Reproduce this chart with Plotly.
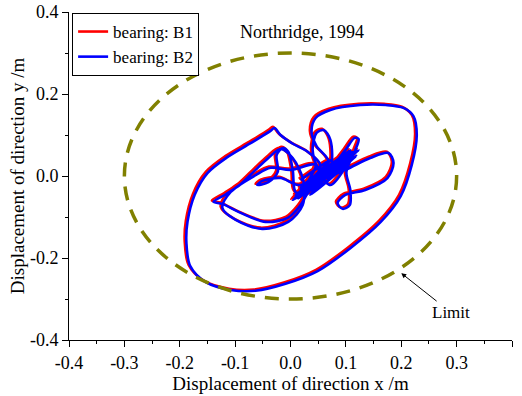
import plotly.graph_objects as go

# ---- data (m) ----
b2_x = [0.018,0.072,0.027,0.099,0.018,0.108,0.036,0.117,0.009,0.090,0.045,0.112,0.027,0.099,0.014,0.123,0.022,0.105,0.004,0.090,0.054,0.119,0.036,0.072,
        0.072,0.060,0.047,0.040,0.051,0.072,0.112,0.018,0.099,0.144,0.177,0.186,0.175,0.135,0.099,0.085,0.094,0.107,0.108,0.101,0.117,0.123,0.116,0.099,0.063,0.027,0.108,0.011,
        0.004,-0.004,-0.014,-0.025,-0.023,-0.040,-0.060,-0.051,-0.018,0.018,0.099,0.033,
        0.018,-0.005,-0.045,-0.090,-0.123,-0.139,-0.116,-0.090,-0.063,-0.040,-0.018,0.004,0.023,0.022,-0.004,-0.051,-0.099,-0.123,-0.108,-0.063,-0.036,0.000,0.045,0.018,0.112,0.036,
        0.054,0.031,0.005,-0.018,-0.029,-0.036,-0.072,-0.114,-0.150,-0.173,-0.186,-0.188,-0.181,-0.153,-0.108,-0.063,-0.009,0.049,0.108,0.163,0.199,0.219,0.228,0.222,0.204,0.172,0.126,0.072,0.045,0.038,0.047,0.069,
        0.023,0.108,0.014,0.099,0.036,0.081,0.051]
b2_y = [-0.010,0.039,-0.022,0.051,-0.034,0.063,-0.010,0.059,-0.046,0.027,-0.005,0.044,-0.034,0.039,-0.054,0.063,-0.039,0.034,-0.059,0.044,-0.022,0.049,-0.046,0.015,
        0.088,0.112,0.105,0.063,0.015,-0.022,0.059,-0.029,0.015,0.044,0.056,0.032,-0.005,-0.034,-0.046,-0.066,-0.080,-0.071,-0.034,0.010,0.063,0.090,0.093,0.063,0.002,-0.046,0.051,-0.041,
        0.015,0.059,0.068,0.051,0.010,-0.015,-0.022,-0.012,-0.005,-0.022,0.044,-0.039,
        -0.071,-0.102,-0.112,-0.090,-0.068,-0.063,-0.044,-0.020,0.015,0.044,0.066,0.044,-0.010,-0.071,-0.112,-0.129,-0.107,-0.078,-0.039,0.002,0.020,0.015,0.027,-0.049,0.054,-0.029,
        0.027,0.059,0.078,0.100,0.117,0.110,0.080,0.046,0.007,-0.046,-0.112,-0.163,-0.220,-0.259,-0.278,-0.280,-0.263,-0.232,-0.176,-0.112,-0.049,0.027,0.100,0.146,0.166,0.173,0.173,0.161,0.141,0.107,0.073,0.034,
        -0.034,0.049,-0.046,0.034,-0.024,0.020,-0.010]

b1_x = [0.015,0.069,0.024,0.096,0.015,0.105,0.033,0.114,0.006,0.087,0.042,0.109,0.024,0.096,0.011,0.120,0.019,0.102,0.001,0.087,0.051,0.116,0.033,0.069,
        0.069,0.057,0.044,0.037,0.048,0.069,0.109,0.015,0.096,0.141,0.174,0.183,0.172,0.132,0.096,0.082,0.091,0.104,0.105,0.098,0.114,0.120,0.113,0.096,0.060,0.024,0.105,0.008,
        0.001,-0.007,-0.017,-0.028,-0.026,-0.043,-0.063,-0.054,-0.021,0.015,0.096,0.030,
        0.015,-0.008,-0.048,-0.093,-0.126,-0.142,-0.119,-0.093,-0.066,-0.043,-0.021,0.001,0.020,0.019,-0.007,-0.054,-0.102,-0.126,-0.111,-0.066,-0.039,-0.003,0.042,0.015,0.109,0.033,
        0.051,0.028,0.002,-0.021,-0.032,-0.039,-0.075,-0.117,-0.153,-0.176,-0.189,-0.191,-0.184,-0.156,-0.111,-0.066,-0.012,0.046,0.105,0.160,0.196,0.216,0.225,0.219,0.201,0.169,0.123,0.069,0.042,0.035,0.044,0.066,
        0.020,0.105,0.011,0.096,0.033,0.078,0.048]
b1_y = [-0.007,0.042,-0.019,0.054,-0.031,0.066,-0.007,0.062,-0.043,0.030,-0.002,0.047,-0.031,0.042,-0.051,0.066,-0.036,0.037,-0.056,0.047,-0.019,0.052,-0.043,0.018,
        0.091,0.115,0.108,0.066,0.018,-0.019,0.062,-0.026,0.018,0.047,0.059,0.035,-0.002,-0.031,-0.043,-0.063,-0.077,-0.068,-0.031,0.013,0.066,0.093,0.096,0.066,0.005,-0.043,0.054,-0.038,
        0.018,0.062,0.071,0.054,0.013,-0.012,-0.019,-0.009,-0.002,-0.019,0.047,-0.036,
        -0.068,-0.099,-0.109,-0.087,-0.065,-0.060,-0.041,-0.017,0.018,0.047,0.069,0.047,-0.007,-0.068,-0.109,-0.126,-0.104,-0.075,-0.036,0.005,0.023,0.018,0.030,-0.046,0.057,-0.026,
        0.030,0.062,0.081,0.103,0.120,0.113,0.083,0.049,0.010,-0.043,-0.109,-0.160,-0.217,-0.256,-0.275,-0.277,-0.260,-0.229,-0.173,-0.109,-0.046,0.030,0.103,0.149,0.169,0.176,0.176,0.164,0.144,0.110,0.076,0.037,
        -0.031,0.052,-0.043,0.037,-0.021,0.023,-0.007]

limit_radius = 0.3
limit_arrow_tip = (0.200, -0.237)
limit_label_pos = (0.289, -0.332)
series_names = ["bearing: B1", "bearing: B2"]
title_text = "Northridge, 1994"
x_title = "Displacement of direction x /m"
y_title = "Displacement of direction y /m"
x_tickvals = [-0.4, -0.3, -0.2, -0.1, 0.0, 0.1, 0.2, 0.3, 0.4]
x_ticktext = ["-0.4", "-0.3", "-0.2", "-0.1", "0.0", "0.1", "0.2", "0.3", "0.4"]
y_tickvals = [-0.4, -0.2, 0.0, 0.2, 0.4]
y_ticktext = ["-0.4", "-0.2", "0.0", "0.2", "0.4"]

FONT = "Liberation Serif, Times New Roman, serif"

fig = go.Figure()
fig.add_trace(go.Scatter(x=b1_x, y=b1_y, mode="lines", name=series_names[0],
                         line=dict(color="#ff0000", width=2.6, shape="spline", smoothing=0.9)))
fig.add_trace(go.Scatter(x=b2_x, y=b2_y, mode="lines", name=series_names[1],
                         line=dict(color="#0000ff", width=2.6, shape="spline", smoothing=0.9)))

fig.add_shape(type="circle", xref="x", yref="y",
              x0=-limit_radius, x1=limit_radius, y0=-limit_radius, y1=limit_radius,
              line=dict(color="#808000", width=3.5, dash="14px,10px"), layer="above")

fig.add_annotation(x=limit_arrow_tip[0], y=limit_arrow_tip[1], xref="x", yref="y",
                   ax=limit_label_pos[0], ay=limit_label_pos[1], axref="x", ayref="y",
                   text="Limit", showarrow=True, arrowhead=2, arrowsize=1, arrowwidth=1,
                   arrowcolor="black", font=dict(family=FONT, size=17, color="black"))
fig.add_annotation(x=0.526, y=0.976, xref="paper", yref="paper", text=title_text,
                   showarrow=False, font=dict(family=FONT, size=18, color="black"))

axis_common = dict(showline=True, linecolor="black", linewidth=1, showgrid=False, zeroline=False,
                   ticks="outside", ticklen=6, tickcolor="black", tickwidth=1,
                   tickmode="array", automargin=False,
                   tickfont=dict(family=FONT, size=18, color="black"),
                   title_font=dict(family=FONT, size=19, color="black"))
fig.update_xaxes(range=[-0.4, 0.4], tickvals=x_tickvals, ticktext=x_ticktext,
                 minor=dict(dtick=0.05, tick0=0, ticks="outside", ticklen=3, tickcolor="black"),
                 title_text=x_title, title_standoff=4, **axis_common)
fig.update_yaxes(range=[-0.4, 0.4], tickvals=y_tickvals, ticktext=y_ticktext,
                 minor=dict(dtick=0.1, tick0=0, ticks="outside", ticklen=3, tickcolor="black"),
                 title_text=y_title, title_standoff=0, **axis_common)

fig.update_layout(width=522, height=396, margin=dict(l=69, r=10, t=12, b=56),
                  paper_bgcolor="white", plot_bgcolor="white",
                  font=dict(family=FONT, color="black"),
                  legend=dict(x=0.007, y=0.997, xanchor="left", yanchor="top",
                              bgcolor="white", bordercolor="black", borderwidth=1,
                              font=dict(family=FONT, size=17, color="black"),
                              tracegroupgap=0, itemwidth=30))

fig.write_html("out.html")
